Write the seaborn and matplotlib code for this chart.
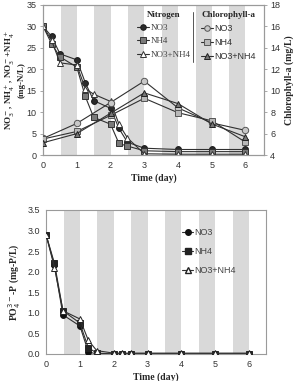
import numpy as np
import pandas as pd
import matplotlib
matplotlib.use("Agg")
import matplotlib.pyplot as plt
import seaborn as sns
from matplotlib.lines import Line2D

# ---------------- data ----------------
t_n = [0, 0.25, 0.5, 1, 1.25, 1.5, 2, 2.25, 2.5, 3, 4, 5, 6]
n_no3 = [30, 27.7, 23.6, 22.2, 16.9, 12.7, 10.9, 6.2, 3.0, 1.6, 1.3, 1.3, 1.3]
n_nh4 = [30, 26.0, 22.9, 20.5, 13.7, 8.8, 7.2, 2.7, 2.1, 1.0, 0.8, 0.8, 0.8]
n_mix = [30, 26.8, 21.5, 21.0, 15.5, 14.2, 12.5, 7.2, 4.0, 0.3, 0.2, 0.2, 0.2]

t_c = [0, 1, 2, 3, 4, 5, 6]
c_no3 = [5.55, 6.95, 8.9, 10.9, 8.4, 7.0, 6.3]
c_nh4 = [5.5, 6.2, 7.7, 9.3, 7.95, 7.2, 5.2]
c_mix = [5.15, 6.0, 7.9, 9.8, 8.8, 6.9, 5.7]

t_p = [0, 0.25, 0.5, 1, 1.25, 1.5, 2, 2.25, 2.5, 3, 4, 5, 6]
p_no3 = [2.9, 2.15, 0.95, 0.68, 0.05, 0.0, 0.0, 0.0, 0.0, 0.0, 0.0, 0.0, 0.0]
p_nh4 = [2.9, 2.2, 1.05, 0.75, 0.15, 0.02, 0.0, 0.0, 0.0, 0.0, 0.0, 0.0, 0.0]
p_mix = [2.9, 2.1, 1.05, 0.85, 0.33, 0.08, 0.02, 0.02, 0.02, 0.02, 0.02, 0.02, 0.02]

series_labels = ["NO3", "NH4", "NO3+NH4"]
night_starts = [0.52, 1.52, 2.52, 3.52, 4.52, 5.52]

# ---------------- style ----------------
sns.set_theme(style="white")
plt.rcParams["font.family"] = ["Liberation Sans", "DejaVu Sans"]
SERIF = ["Liberation Serif", "DejaVu Serif"]

fig = plt.figure(figsize=(2.95, 3.81), dpi=100)
ax1 = fig.add_axes([0.146, 0.593, 0.749, 0.394])
ax2 = ax1.twinx()
ax3 = fig.add_axes([0.156, 0.071, 0.746, 0.378])

BAND = "#d9d9d9"
SP = "#9a9a9a"
TICKC = "#333333"
LC = "#303030"

for ax in (ax1, ax3):
    for s in night_starts:
        ax.axvspan(s, s + 0.48, color=BAND, lw=0, zorder=0)

def draw(ax, x, y, marker, face, edge, ms=4.2, lw=0.8):
    df = pd.DataFrame({"x": x, "y": y})
    sns.lineplot(data=df, x="x", y="y", ax=ax, color=LC, lw=lw, marker=marker,
                 markersize=ms, markerfacecolor=face, markeredgecolor=edge,
                 markeredgewidth=0.7, legend=False, zorder=3)

# nitrogen (left)
draw(ax1, t_n, n_no3, "o", "#2a2a2a", "#1a1a1a")
draw(ax1, t_n, n_nh4, "s", "#7a7a7a", "#333333")
draw(ax1, t_n, n_mix, "^", "white", "#333333")
# chlorophyll (right)
draw(ax2, t_c, c_no3, "o", "#c8c8c8", "#555555", ms=4.6)
draw(ax2, t_c, c_nh4, "s", "#b8b8b8", "#555555", ms=4.6)
draw(ax2, t_c, c_mix, "^", "#777777", "#222222", ms=4.6)

ax1.set_xlim(0, 6.55)
ax1.set_ylim(0, 35)
ax2.set_ylim(4, 18)
ax1.set_xticks(range(7))
ax1.set_yticks(range(0, 36, 5))
ax2.set_yticks(range(4, 19, 2))
ax1.set_xlabel("Time (day)", family=SERIF, fontweight="bold", fontsize=7, labelpad=2)
ax1.set_ylabel("NO$_3^-$, NH$_4^+$, NO$_3^-$+NH$_4^+$\n(mg-N/L)", family=SERIF,
               fontweight="bold", fontsize=6.5, labelpad=1, linespacing=1.0)
ax2.set_ylabel("Chlorophyll-a (mg/L)", family=SERIF, fontweight="bold", fontsize=7, labelpad=3)

# phosphate
draw(ax3, t_p, p_no3, "o", "#111111", "#111111")
draw(ax3, t_p, p_nh4, "s", "#222222", "#222222")
draw(ax3, t_p, p_mix, "^", "white", "#222222", ms=4.8)
ax3.set_xlim(0, 6.5)
ax3.set_ylim(0, 3.5)
ax3.set_xticks(range(7))
ax3.set_yticks(np.arange(0, 3.51, 0.5))
ax3.set_yticklabels([f"{v:.1f}" for v in np.arange(0, 3.51, 0.5)])
ax3.set_xlabel("Time (day)", family=SERIF, fontweight="bold", fontsize=7, labelpad=2)
ax3.set_ylabel("PO$_4^{3-}$-P (mg-P/L)", family=SERIF, fontweight="bold", fontsize=7, labelpad=3)

for ax in (ax1, ax2, ax3):
    for sp in ax.spines.values():
        sp.set_color(SP)
        sp.set_linewidth(0.8)
    ax.tick_params(labelsize=6.5, colors=TICKC, length=2.5, width=0.6, pad=2,
                   color=SP)

# legends (top)
def handle(marker, face, edge):
    return Line2D([], [], color=LC, lw=0.8, marker=marker, markersize=4,
                  markerfacecolor=face, markeredgecolor=edge, markeredgewidth=0.7)

hn = [handle("o", "#2a2a2a", "#1a1a1a"), handle("s", "#7a7a7a", "#333333"),
      handle("^", "white", "#333333")]
hc = [handle("o", "#c8c8c8", "#555555"), handle("s", "#b8b8b8", "#555555"),
      handle("^", "#777777", "#222222")]
leg1 = ax2.legend(hn, series_labels, loc="upper left", bbox_to_anchor=(0.41, 0.985),
                  frameon=False, title="Nitrogen", handlelength=1.3, handletextpad=0.15,
                  labelspacing=0.55, borderaxespad=0,
                  prop={"family": SERIF, "size": 6.5},
                  title_fontproperties={"family": SERIF, "weight": "bold", "size": 6.5})
for txt in leg1.get_texts():
    txt.set_color("#444444")
ax2.add_artist(leg1)
leg2 = ax2.legend(hc, series_labels, loc="upper left", bbox_to_anchor=(0.70, 0.985),
                  frameon=False, title="Chlorophyll-a", handlelength=1.3, handletextpad=0.15,
                  labelspacing=0.55, borderaxespad=0,
                  prop={"family": ["Liberation Sans"], "size": 6.5},
                  title_fontproperties={"family": SERIF, "weight": "bold", "size": 6.5})
for txt in leg2.get_texts():
    txt.set_color("#333333")
ax2.plot([0.68, 0.68], [0.62, 0.95], transform=ax2.transAxes, color="#555555", lw=0.7)

# legend (bottom)
hp = [Line2D([], [], color=LC, lw=0.8, marker="o", markersize=4, markerfacecolor="#111111",
             markeredgecolor="#111111"),
      Line2D([], [], color=LC, lw=0.8, marker="s", markersize=4, markerfacecolor="#222222",
             markeredgecolor="#222222"),
      Line2D([], [], color=LC, lw=0.8, marker="^", markersize=4, markerfacecolor="white",
             markeredgecolor="#222222")]
leg3 = ax3.legend(hp, series_labels, loc="upper left", bbox_to_anchor=(0.6, 0.9),
                  frameon=False, handlelength=1.3, handletextpad=0.1, labelspacing=1.1,
                  borderaxespad=0, prop={"family": ["Liberation Sans"], "size": 6.5})
for txt in leg3.get_texts():
    txt.set_color("#444444")

fig.savefig("out.png", dpi=100)
